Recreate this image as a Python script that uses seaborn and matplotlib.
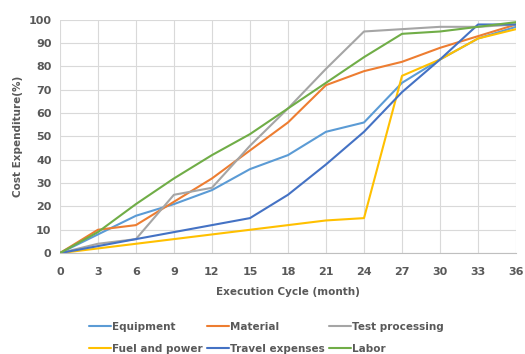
import matplotlib
matplotlib.use("Agg")
import matplotlib.pyplot as plt
import pandas as pd
import seaborn as sns

months = [0, 3, 6, 9, 12, 15, 18, 21, 24, 27, 30, 33, 36]
equipment = [0, 8, 16, 21, 27, 36, 42, 52, 56, 73, 83, 92, 97]
material = [0, 10, 12, 22, 32, 44, 56, 72, 78, 82, 88, 93, 98]
test_processing = [0, 4, 6, 25, 28, 46, 62, 79, 95, 96, 97, 97, 98]
fuel_power = [0, 2, 4, 6, 8, 10, 12, 14, 15, 76, 83, 92, 96]
travel = [0, 3, 6, 9, 12, 15, 25, 38, 52, 69, 83, 98, 98]
labor = [0, 9, 21, 32, 42, 51, 62, 73, 84, 94, 95, 97, 99]

series = {
    "Equipment": equipment,
    "Material": material,
    "Test processing": test_processing,
    "Fuel and power": fuel_power,
    "Travel expenses": travel,
    "Labor": labor,
}
colors = ["#5B9BD5", "#ED7D31", "#A5A5A5", "#FFC000", "#4472C4", "#70AD47"]

rows = []
for name, vals in series.items():
    for m, v in zip(months, vals):
        rows.append((name, m, v))
df = pd.DataFrame(rows, columns=["cost", "month", "value"])

sns.set_style("white")
plt.rcParams["font.family"] = ["DejaVu Sans"]
text_color = "#595959"

fig = plt.figure(figsize=(5.25, 3.54), dpi=100)
ax = fig.add_axes([0.114, 0.285, 0.869, 0.659])
sns.lineplot(data=df, x="month", y="value", hue="cost", palette=colors,
             linewidth=1.5, ax=ax, legend=True)

ax.set_xlim(0, 36)
ax.set_ylim(0, 100)
ax.set_xticks(months)
ax.set_yticks(range(0, 101, 10))
ax.grid(True, color="#D9D9D9", linewidth=0.8)
ax.set_axisbelow(True)
for s in ["top", "right", "left"]:
    ax.spines[s].set_visible(False)
ax.spines["bottom"].set_color("#BFBFBF")
ax.tick_params(length=0, labelsize=8, colors=text_color)
ax.tick_params(axis="x", pad=10)
ax.tick_params(axis="y", pad=6)
for lbl in ax.get_xticklabels() + ax.get_yticklabels():
    lbl.set_fontweight("bold")
ax.set_xlabel("Execution Cycle (month)", fontsize=7.5, color=text_color,
              fontweight="bold", labelpad=7)
ax.set_ylabel("Cost Expenditure(%)", fontsize=7.5, color=text_color, fontweight="bold")

handles, labels = ax.get_legend_handles_labels()
ax.get_legend().remove()
order = [0, 3, 1, 4, 2, 5]
fig.legend([handles[i] for i in order], [labels[i] for i in order],
           ncol=3, loc="upper left", bbox_to_anchor=(0.151, 0.118),
           frameon=False, handlelength=2.1, handletextpad=0.1,
           columnspacing=0.45, labelspacing=1.15, labelcolor=text_color,
           prop={"weight": "bold", "size": 7.5})

fig.savefig("out.png", dpi=100)
